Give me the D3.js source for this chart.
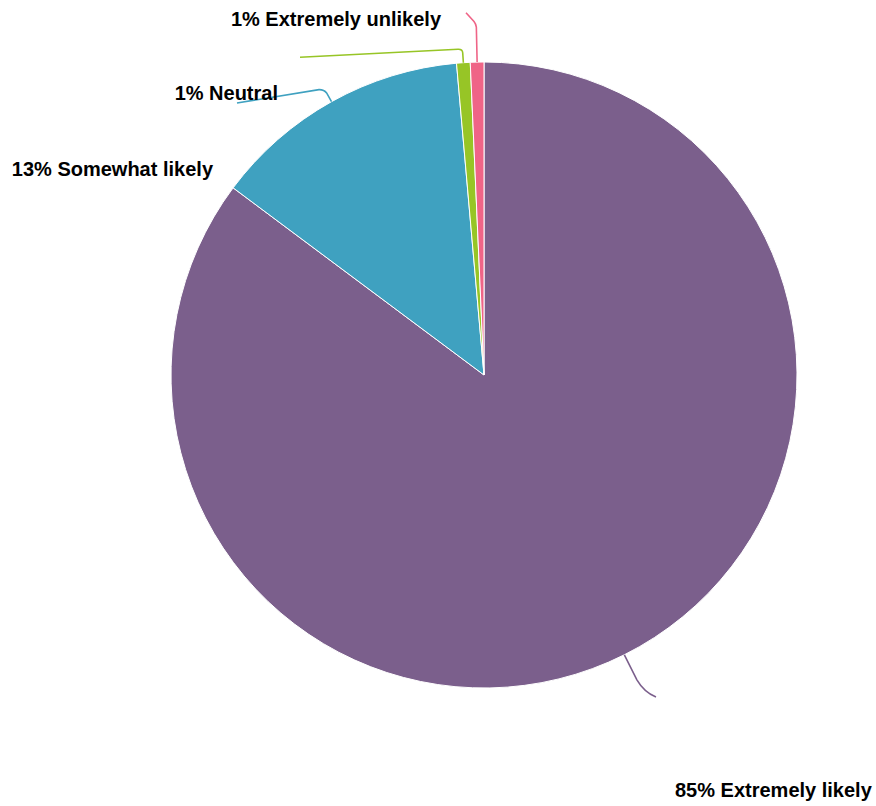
<!DOCTYPE html>
<html>
<head>
<meta charset="utf-8">
<script src="https://cdn.jsdelivr.net/npm/d3@7"></script>
<style>
  html, body { margin: 0; padding: 0; background: #fff; }
  svg { display: block; }
  .label { font-family: "Liberation Sans", Arial, sans-serif; font-weight: bold; font-size: 20px; fill: #000; }
</style>
</head>
<body>
<svg id="chart" width="876" height="806"></svg>
<script>
// Survey responses, in clockwise order from 12 o'clock
const categories = ["Extremely likely", "Somewhat likely", "Neutral", "Extremely unlikely"];
const shares = [85.2, 13.4, 0.7, 0.7];
const colors = ["#7b5f8c", "#3fa1c0", "#97c526", "#ef6487"];

// Label text anchors
const labelLayout = [
  { tx: 675, ty: 797,  anchor: "start" },
  { tx: 213, ty: 176,  anchor: "end" },
  { tx: 278, ty: 99.5, anchor: "end" },
  { tx: 441, ty: 26,   anchor: "end" }
];
// Leader routing: radial stub length, bend control, bend end, final point
const leaderRouting = [
  { ext: 28, ctrl: [644, 692],   bend: null,        end: [656, 697] },
  { ext: 10, ctrl: [324, 89.5],  bend: [319, 89.6], end: [237, 103] },
  { ext: 10, ctrl: [462.5, 49],  bend: [458, 49.2], end: [300, 57.3] },
  { ext: 35, ctrl: [476, 24],    bend: [474, 21.5], end: [466, 12.7] }
];

const cx = 484, cy = 375, radius = 313;

const svg = d3.select("#chart");
const g = svg.append("g").attr("transform", `translate(${cx},${cy})`);

const data = categories.map((c, i) => ({ category: c, value: shares[i], color: colors[i] }));

const pie = d3.pie().sort(null).value(d => d.value).startAngle(0).endAngle(2 * Math.PI);
const arcs = pie(data);
const arc = d3.arc().innerRadius(0).outerRadius(radius);

g.selectAll("path.slice")
  .data(arcs)
  .join("path")
  .attr("class", "slice")
  .attr("d", arc)
  .attr("fill", d => d.data.color)
  .attr("stroke", "#fff")
  .attr("stroke-width", 1)
  .attr("stroke-linejoin", "round");

// Point on a ray at the given angle, in page coordinates
function polar(angle, r) {
  return [cx + r * Math.sin(angle), cy - r * Math.cos(angle)];
}

// Leader lines: radial stub from the rim, rounded bend, then out toward the label
function leaderPath(a, rt) {
  const mid = (a.startAngle + a.endAngle) / 2;
  const p0 = polar(mid, radius);
  const p1 = polar(mid, radius + rt.ext);
  const path = d3.path();
  path.moveTo(p0[0], p0[1]);
  path.lineTo(p1[0], p1[1]);
  if (rt.bend) {
    path.quadraticCurveTo(rt.ctrl[0], rt.ctrl[1], rt.bend[0], rt.bend[1]);
    path.lineTo(rt.end[0], rt.end[1]);
  } else {
    path.quadraticCurveTo(rt.ctrl[0], rt.ctrl[1], rt.end[0], rt.end[1]);
  }
  return path.toString();
}

svg.append("g").selectAll("path")
  .data(arcs)
  .join("path")
  .attr("d", (d, i) => leaderPath(d, leaderRouting[i]))
  .attr("fill", "none")
  .attr("stroke", d => d.data.color)
  .attr("stroke-width", 1.6);

// Labels
const fmt = d3.format(".0f");
svg.append("g").selectAll("text")
  .data(arcs)
  .join("text")
  .attr("class", "label")
  .attr("x", (d, i) => labelLayout[i].tx)
  .attr("y", (d, i) => labelLayout[i].ty)
  .attr("text-anchor", (d, i) => labelLayout[i].anchor)
  .text(d => `${fmt(d.data.value)}% ${d.data.category}`);
</script>
</body>
</html>
